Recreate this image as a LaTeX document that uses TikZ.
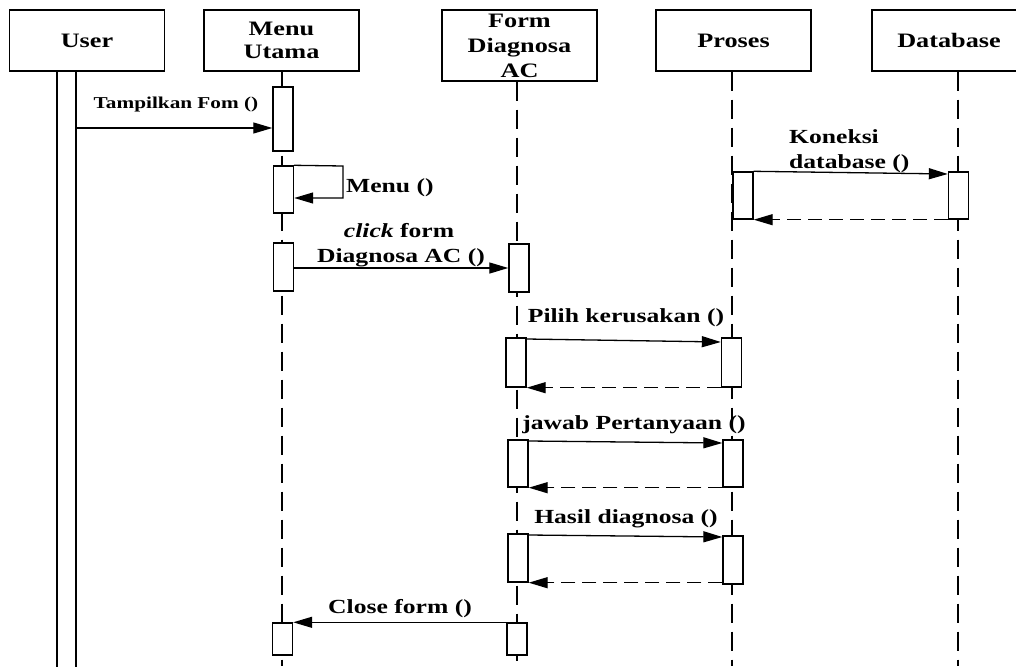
\documentclass[tikz,border=0pt]{standalone}
\usepackage{fontspec}
\setmainfont{Liberation Serif}[FakeStretch=1.28]
\usetikzlibrary{arrows.meta}
\newcommand\hdrfont{\fontsize{20.5}{23}\selectfont\bfseries}
\newcommand\lblfont{\fontsize{20}{24}\selectfont\bfseries}
\newcommand\smlfont{\fontsize{16.6}{20}\selectfont\bfseries}
\begin{document}
\begin{tikzpicture}[x=1pt,y=-1pt,
  hdr/.style={draw, line width=1.4pt, minimum width=155pt, minimum height=61pt, inner sep=0pt, align=center, font=\hdrfont},
  act/.style={draw, fill=white, line width=1.4pt, minimum width=20pt, inner sep=0pt},
  life/.style={line width=1.2pt, dash pattern=on 19pt off 9pt},
  msg/.style={line width=1.3pt, -{Triangle[length=19pt,width=11pt]}},
  ret/.style={msg, dash pattern=on 14pt off 7pt},
  lbl/.style={font=\lblfont, inner sep=0pt, anchor=base}]
\useasboundingbox (0,0) rectangle (1016,666);
\clip (0,0) rectangle (1016,666);
% headers
\node[hdr] (user) at (87,40.5) {User};
\node[hdr] (menu) at (281.5,40.5) {Menu\\Utama};
\node[hdr, minimum height=71pt, font=\fontsize{20.5}{25}\selectfont\bfseries] (form) at (519.5,45.5) {Form\\Diagnosa\\AC};
\node[hdr] (proses) at (733.5,40.5) {Proses};
\node[hdr, minimum width=154pt] (db) at (949,40.5) {Database};
% lifelines
\node[draw, line width=1.4pt, minimum width=19pt, minimum height=600pt, inner sep=0pt] (uact) at (66.5,371) {};
\draw[life] ([xshift=0.5pt]menu.south) -- ([xshift=0.5pt]menu.south |- 0,666);
\draw[life] ([xshift=-2.5pt]form.south) -- ([xshift=-2.5pt]form.south |- 0,666);
\draw[life] ([xshift=-1.5pt]proses.south) -- ([xshift=-1.5pt]proses.south |- 0,666);
\draw[life] ([xshift=9pt]db.south) -- ([xshift=9pt]db.south |- 0,666);
% activations
\node[act, minimum height=64pt] (a1) at (283,119) {};
\node[act, minimum height=47pt] (a2) at (283.5,189.5) {};
\node[act, minimum height=48pt] (a3) at (283.5,267) {};
\node[act, minimum height=32pt] (a4) at (282.5,639) {};
\node[act, minimum height=48pt] (f1) at (519,268) {};
\node[act, minimum height=49pt] (f2) at (516,362.5) {};
\node[act, minimum height=47pt] (f3) at (518,463.5) {};
\node[act, minimum height=48pt] (f4) at (518,558) {};
\node[act, minimum height=32pt] (f5) at (517,639) {};
\node[act, minimum height=47pt] (p1) at (743,195.5) {};
\node[act, minimum height=49pt] (p2) at (731.5,362.5) {};
\node[act, minimum height=47pt] (p3) at (733,463.5) {};
\node[act, minimum height=48pt] (p4) at (733,560) {};
\node[act, minimum height=47pt] (d1) at (958.5,195.5) {};
% messages
\draw[msg] (uact.east |- 0,128) -- (a1.west |- 0,128);
\node[lbl, font=\smlfont] (l1) at (176,109) {Tampilkan Fom ()};
\coordinate (s1) at (343,166);
\coordinate (s2) at (343,198);
\draw[msg] (a2.north east) -- (s1) -- (s2) -- (a2.east |- s2);
\node[lbl, anchor=base west] (l2) at (346,192) {Menu ()};
\draw[msg] (a3.east |- 0,268) -- (f1.west |- 0,268);
\node[lbl] (l3a) at (399,237) {\textit{click} form};
\node[lbl] (l3b) at (401,262) {Diagnosa AC ()};
\draw[msg] (p1.north east) -- (d1.west |- 0,174);
\draw[ret] (d1.south west) -- (p1.south east);
\node[lbl, anchor=base west] (l4a) at (789,143) {Koneksi};
\node[lbl, anchor=base west] (l4b) at (789,168) {database ()};
\draw[msg] (f2.east |- 0,339) -- (p2.west |- 0,342);
\draw[ret] (p2.south west) -- (f2.south east);
\node[lbl] (l5) at (626,322) {Pilih kerusakan ()};
\draw[msg] (f3.east |- 0,441) -- (p3.west |- 0,443);
\draw[ret] (p3.south west) -- (f3.south east);
\node[lbl] (l6) at (634,429) {jawab Pertanyaan ()};
\draw[msg] (f4.east |- 0,535) -- (p4.west |- 0,537);
\draw[ret] (f4.south east -| p4.west) -- (f4.south east);
\node[lbl] (l7) at (626,523) {Hasil diagnosa ()};
\draw[msg] (f5.north west) -- (a4.north east);
\node[lbl] (l8) at (400,613) {Close form ()};
\end{tikzpicture}
\end{document}
